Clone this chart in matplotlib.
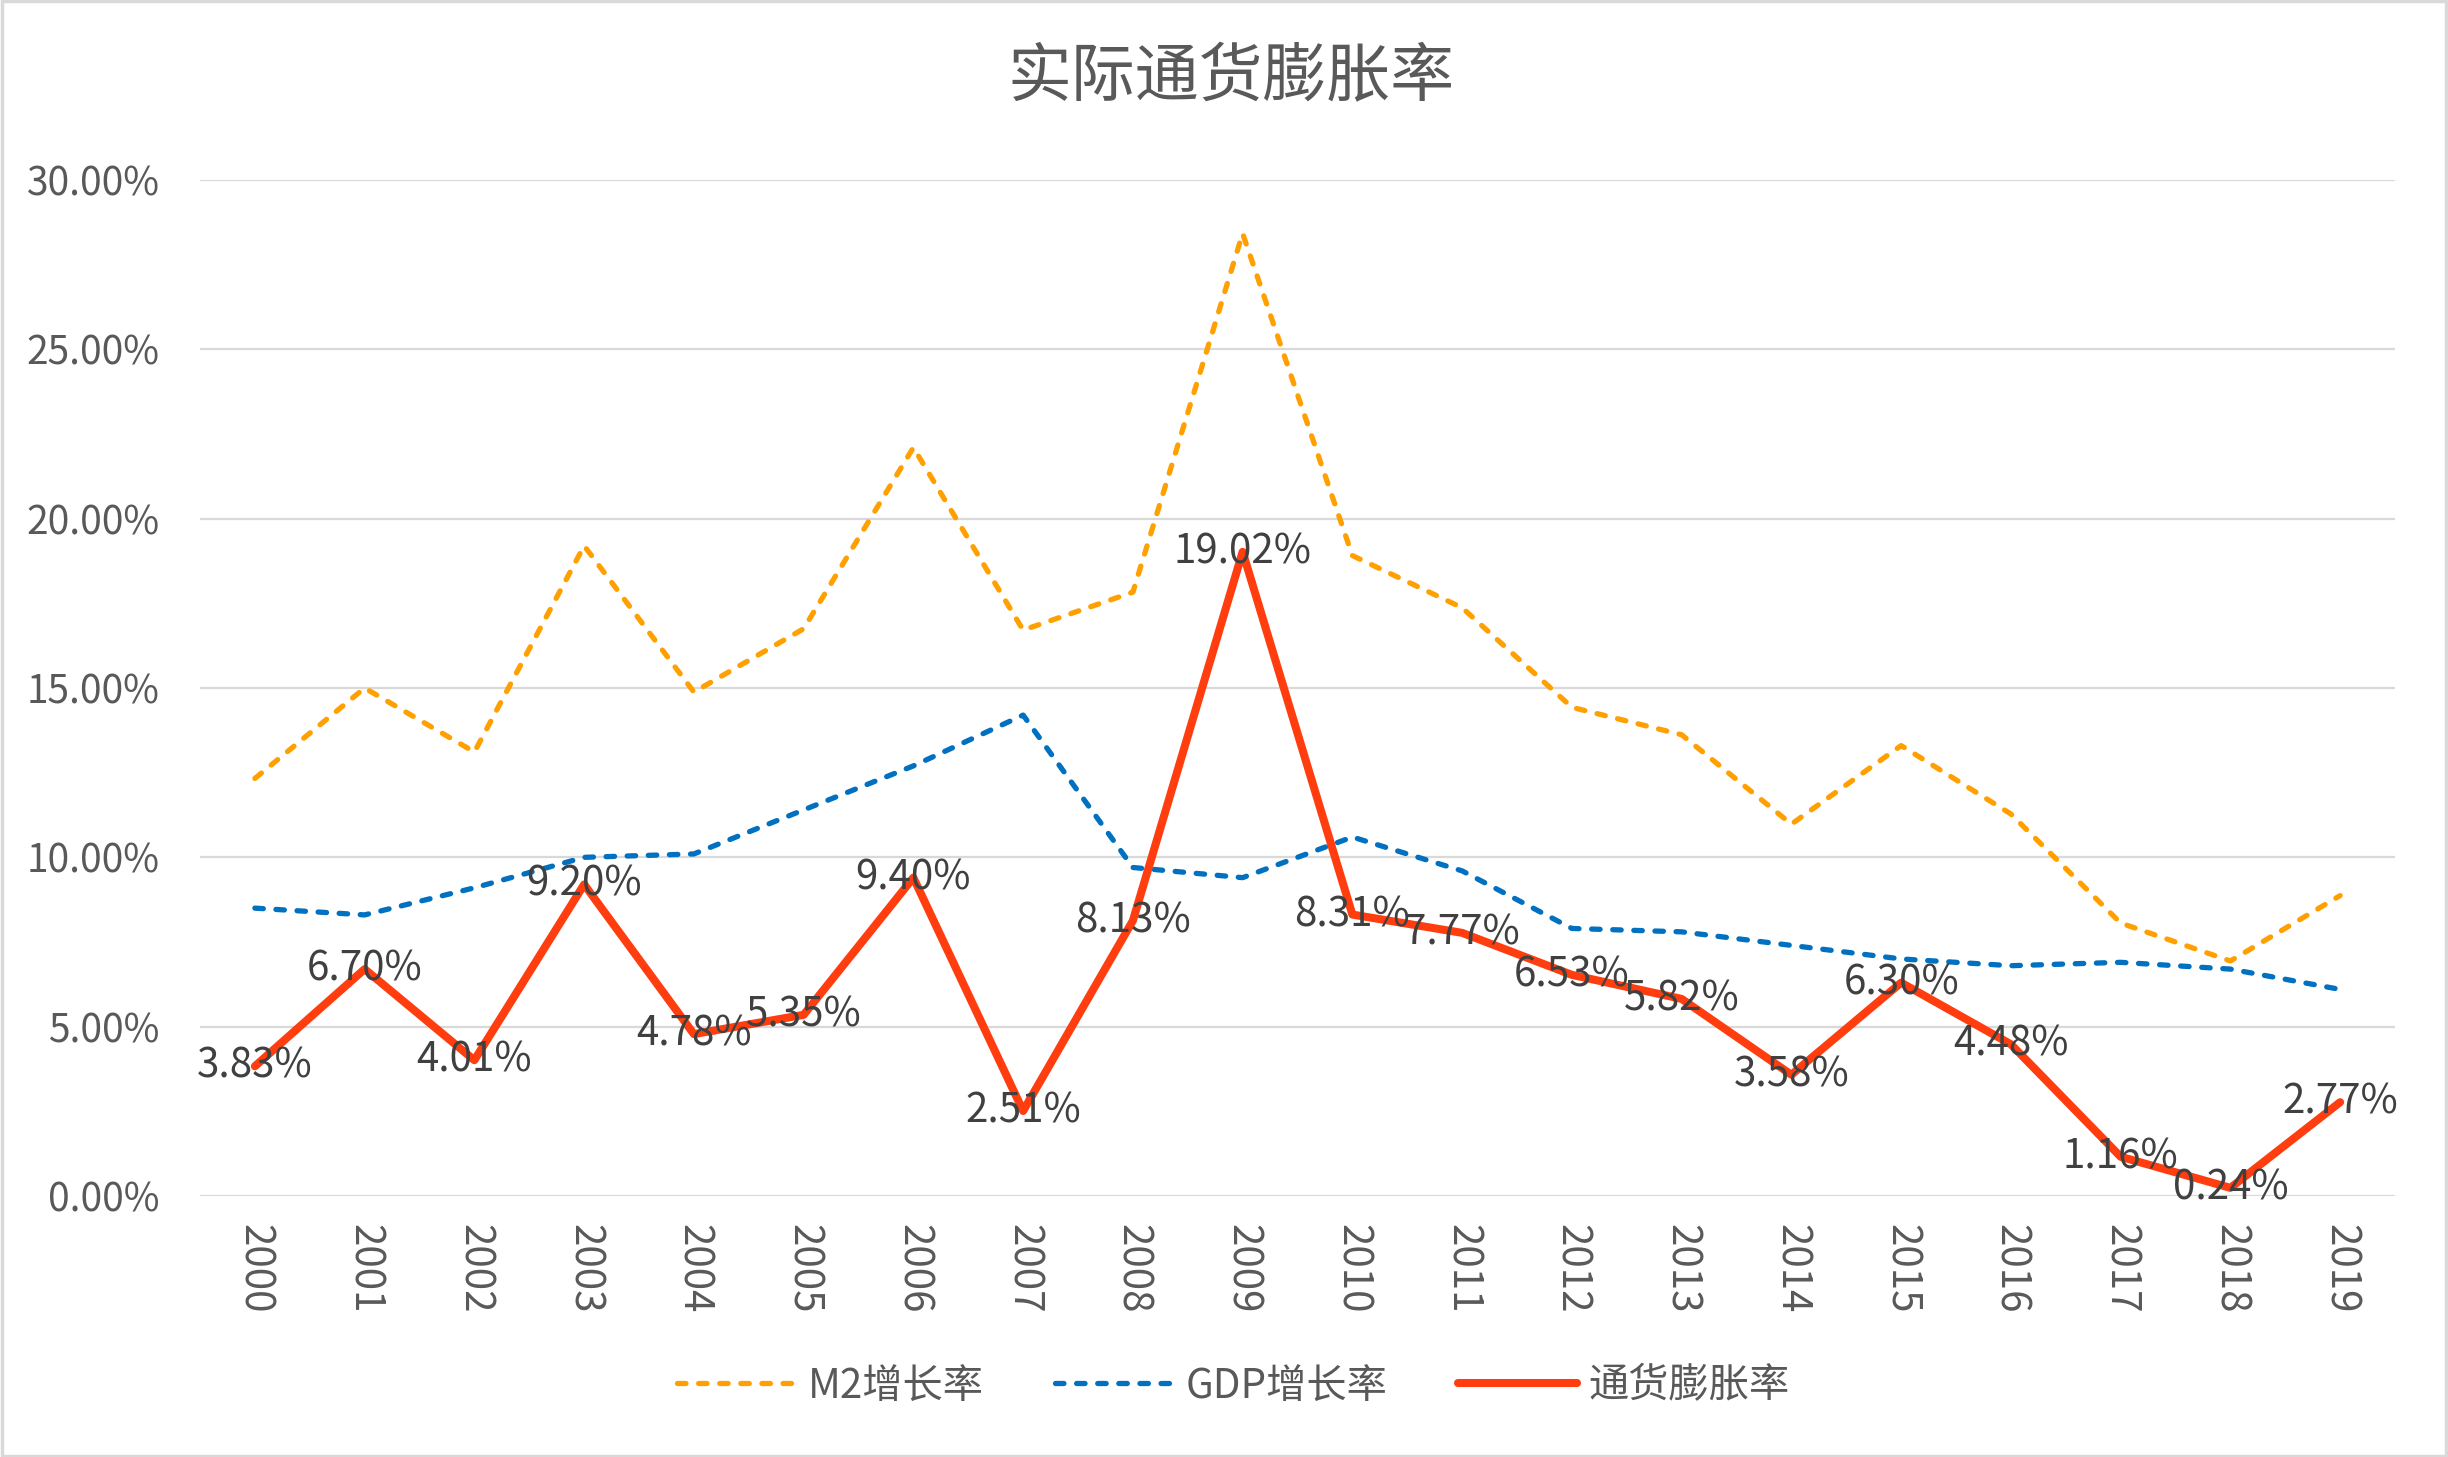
import matplotlib
matplotlib.use('Agg')
import matplotlib.pyplot as plt
from matplotlib.patches import Rectangle
from matplotlib.ticker import FuncFormatter

plt.rcParams['font.family'] = ['Noto Sans CJK SC', 'DejaVu Sans']

years = [str(y) for y in range(2000, 2020)]
m2 = [12.33, 15.0, 13.11, 19.2, 14.88, 16.75, 22.1, 16.71, 17.83, 28.42,
      18.91, 17.37, 14.43, 13.62, 10.98, 13.3, 11.28, 8.06, 6.94, 8.87]
gdp = [8.5, 8.3, 9.1, 10.0, 10.1, 11.4, 12.7, 14.2, 9.7, 9.4,
       10.6, 9.6, 7.9, 7.8, 7.4, 7.0, 6.8, 6.9, 6.7, 6.1]
infl = [3.83, 6.70, 4.01, 9.20, 4.78, 5.35, 9.40, 2.51, 8.13, 19.02,
        8.31, 7.77, 6.53, 5.82, 3.58, 6.30, 4.48, 1.16, 0.24, 2.77]

c_m2 = '#FFA000'
c_gdp = '#0070C0'
c_inf = '#FF3D0E'
grey = '#595959'

fig = plt.figure(figsize=(24.48, 14.57), dpi=100)
ax = fig.add_axes([200/2448, 1-1196/1457, (2395-200)/2448, (1196-180)/1457])

x = range(len(years))
ax.plot(x, m2, color=c_m2, lw=3.8, linestyle=(0, (1.6, 2.4)),
        dash_capstyle='round', label='M2增长率', zorder=3)
ax.plot(x, gdp, color=c_gdp, lw=3.8, linestyle=(0, (1.6, 2.4)),
        dash_capstyle='round', label='GDP增长率', zorder=3)
ax.plot(x, infl, color=c_inf, lw=5.8, solid_capstyle='round',
        solid_joinstyle='round', label='通货膨胀率', zorder=4)

# data labels sit centred on the points, like the Excel original
for i, v in enumerate(infl):
    ax.text(i, v, '%.2f%%' % v, ha='center', va='center', fontsize=29,
            color='#404040', zorder=5)

ax.set_xlim(-0.5, len(years) - 0.5)
ax.set_ylim(0, 30)
ax.set_yticks([0, 5, 10, 15, 20, 25, 30])
ax.yaxis.set_major_formatter(FuncFormatter(lambda v, p: '%.2f%%' % v))
ax.set_xticks(list(x))
ax.set_xticklabels(years, rotation=270)
ax.grid(axis='y', color='#D9D9D9', lw=1.6)
ax.set_axisbelow(True)
for s in ax.spines.values():
    s.set_visible(False)
ax.tick_params(axis='both', length=0, labelsize=29, labelcolor=grey)
ax.tick_params(axis='y', labelsize=28, pad=29)
ax.tick_params(axis='x', pad=20)

fig.text(0.503, 1-78/1457, '实际通货膨胀率', ha='center', va='center',
         fontsize=46, color=grey)

fig.legend(loc='center', bbox_to_anchor=(0.504, 1-1386/1457), ncol=3,
           frameon=False, fontsize=29, labelcolor=grey, handlelength=2.95,
           handletextpad=0.3, columnspacing=1.75)

fig.patches.append(Rectangle((0.001, 0.001), 0.998, 0.998, transform=fig.transFigure,
                             fill=False, edgecolor='#D9D9D9', lw=2.5))

fig.savefig('out.png', dpi=100)
